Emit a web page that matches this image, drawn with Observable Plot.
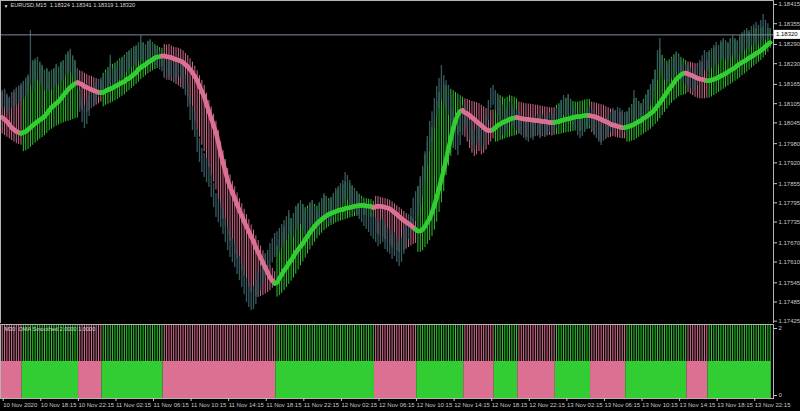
<!DOCTYPE html>
<html><head><meta charset="utf-8">
<script src="https://cdn.jsdelivr.net/npm/d3@7"></script>
<script src="https://cdn.jsdelivr.net/npm/@observablehq/plot@0.6"></script>
<style>
html,body{margin:0;padding:0;background:#000;}
#chart{width:800px;height:411px;overflow:hidden;background:#000;}
#chart svg{display:block;}
</style></head><body><div id="chart"></div>
<script>
// prices in points above 1.17000 (1 point = 0.00001)
const high=[1146,1150,1135,1125,1140,1148,1155,1160,1168,
1175,1185,1195,1334,1240,1245,1250,1235,1225,1210,1215,1205,1210,1215,1228,1220,1235,1240,1258,1268,1275,1255,1240,1215,
1146,1121,1099,1115,1130,1150,1160,1170,1180,1185,
1193,1200,1208,1256,1215,1220,1232,1240,1245,1252,1265,1270,1276,1282,1285,1295,1318,1295,1285,1300,1305,1295,1285,1275,1270,1262,
1245,1240,1255,1245,1232,1240,1252,1245,1225,1193,1168,1127,1096,1075,1027,996,965,949,934,918,887,855,824,808,793,771,746,721,699,683,668,646,627,605,583,558,543,527,533,552,574,596,621,637,646,668,683,699,
705,715,727,740,752,771,746,762,784,793,802,784,771,777,793,802,784,771,793,808,824,815,802,808,824,840,846,855,865,890,880,865,849,840,827,818,808,796,787,777,765,755,
746,733,740,746,724,715,709,693,702,684,671,684,709,733,755,777,809,830,
846,877,909,955,1002,1049,1080,1121,1159,1184,1224,1193,1177,1162,1131,1084,1052,1037,1068,1099,
1100,1084,1052,1037,1021,1037,1052,1021,1037,1068,1115,1153,1162,
1146,1130,1115,1099,1068,1090,1110,1100,1090,1084,
1077,1068,1059,1052,1046,1059,1052,1065,1071,1059,1068,1062,1071,1077,1068,1074,
1090,1100,1115,1130,1121,1134,1115,1100,1084,1068,1059,1065,1077,1090,1096,
1084,1068,1059,1046,1037,1052,1059,1065,1077,1090,1084,1093,1090,1084,1077,
1077,1090,1100,1146,1121,1110,1100,1115,1130,1146,1162,1177,1209,1271,1309,1255,1240,1225,1234,1246,1255,1265,1255,1240,1234,1225,
1225,1215,1202,1209,1225,1240,1255,1271,1265,
1271,1277,1287,1296,1287,1302,1309,1302,1296,1309,1318,1309,1302,1318,1327,1334,1340,1334,1346,1352,1359,1349,1365,1384,1365,1355,1341];
const low=[1087,1093,1075,1070,1090,1095,1100,1105,1112,
1118,1125,1135,1160,1146,1175,1180,1170,1160,1145,1150,1140,1148,1155,1165,1160,1172,1178,1192,1200,1205,1190,1175,1150,
1078,1046,1027,1040,1065,1090,1100,1110,1125,1130,
1131,1140,1148,1165,1155,1160,1172,1178,1185,1192,1205,1210,1216,1222,1225,1235,1240,1235,1225,1240,1245,1235,1225,1215,1210,1205,
1185,1178,1195,1185,1172,1178,1190,1185,1160,1131,1093,1052,1021,1000,952,921,890,874,858,843,812,780,749,733,718,696,671,646,624,608,593,571,552,530,508,483,468,458,462,477,499,521,546,562,571,593,608,624,
630,640,652,665,677,696,671,687,709,718,727,709,696,702,718,727,709,696,718,733,749,740,727,733,749,765,771,780,790,799,805,790,774,765,752,743,733,721,712,702,690,680,
671,658,665,671,649,640,634,618,627,609,596,609,634,658,680,702,715,737,
752,784,815,862,909,955,987,1027,1065,1090,1115,1099,1084,1068,1037,990,959,943,974,1005,
1037,1021,990,974,959,974,990,959,974,1005,1052,1090,1100,
1084,1068,1052,1005,1005,1027,1046,1037,1027,1021,
1015,1005,996,990,984,996,990,1002,1008,996,1005,999,1008,1015,1005,1012,
1027,1037,1052,1068,1059,1071,1052,1037,1021,1005,996,1002,1015,1027,1033,
1021,1005,996,984,974,990,996,1002,1015,1027,1021,1037,1027,1021,1015,
1015,1027,1037,1052,1059,1046,1037,1052,1068,1084,1099,1115,1146,1177,1209,1193,1178,1162,1172,1184,1193,1203,1193,1178,1172,1162,
1162,1152,1140,1146,1162,1178,1193,1209,1203,
1209,1215,1224,1234,1224,1240,1246,1240,1234,1246,1256,1246,1240,1256,1265,1271,1277,1271,1284,1290,1296,1287,1302,1309,1302,1300,1319];
const oma=[1062,1056,1049,1040,1030,1024,1018,1015,1012,
1015,1018,1024,1030,1037,1043,1049,1054,1059,1065,1074,1084,1093,1099,1106,1112,1121,1131,1140,1149,1156,1162,1168,1171,
1168,1165,1159,1156,1152,1149,1146,1143,1140,1140,
1140,1145,1148,1151,1154,1159,1162,1167,1171,1174,1181,1184,1190,1196,1202,1212,1218,1223,1227,1234,1238,1243,1248,1251,1252,1254,
1254,1252,1251,1249,1246,1243,1241,1238,1234,1227,1221,1212,1202,1190,1177,1159,1143,1127,1102,1081,1059,1037,1015,984,949,921,893,865,846,827,809,790,771,755,737,721,705,690,674,655,640,624,608,593,577,562,552,543,
546,559,571,584,593,606,615,627,640,649,659,668,680,690,702,712,721,730,737,743,749,754,759,762,765,768,771,773,774,777,779,780,782,784,785,787,787,787,785,784,784,780,
783,784,784,783,781,779,776,771,765,759,752,746,740,735,730,724,718,712,
707,707,712,721,734,746,765,787,812,840,868,899,930,965,996,1027,1052,1071,1081,1084,
1077,1074,1068,1062,1056,1049,1043,1037,1030,1024,1021,1021,1024,
1030,1037,1041,1046,1049,1052,1056,1059,1060,1062,
1060,1059,1057,1056,1056,1054,1054,1052,1052,1051,1049,1049,1048,1046,1046,1046,
1048,1049,1052,1054,1056,1057,1059,1062,1063,1065,1065,1066,1068,1068,1068,
1066,1065,1062,1059,1056,1052,1049,1046,1041,1038,1037,1034,1032,1030,1030,
1032,1034,1037,1040,1045,1049,1052,1059,1063,1068,1074,1080,1088,1098,1107,1118,1129,1140,1151,1160,1171,1181,1188,1195,1199,1201,
1198,1195,1192,1188,1185,1182,1181,1179,1177,
1177,1179,1181,1184,1187,1192,1195,1199,1204,1209,1213,1218,1224,1229,1234,1238,1243,1248,1252,1257,1262,1266,1271,1277,1284,1290,1296];
const stickHi=[1140,1145,1130,1120,1135,1140,1150,1155,1160,
1170,1180,1190,1210,1235,1240,1245,1232,1222,1208,1212,1203,1208,1212,1225,1218,1232,1238,1255,1262,1270,1252,1238,1212,
1208,1205,1200,1196,1192,1190,1186,1183,1180,1178,
1200,1210,1218,1230,1228,1232,1238,1245,1250,1256,1265,1270,1276,1282,1285,1294,1298,1295,1288,1298,1303,1296,1290,1285,1280,1278,
1290,1288,1290,1285,1282,1280,1278,1275,1270,1262,1255,1245,1235,1222,1208,1192,1178,1162,1138,1115,1095,1072,1050,1020,985,958,930,902,882,862,845,826,808,792,775,758,742,726,710,692,677,660,645,630,614,598,590,580,
660,680,700,720,740,760,745,760,780,790,800,790,780,785,795,802,790,785,795,805,818,815,808,812,822,832,838,845,852,860,862,855,845,838,830,822,815,810,808,806,805,800,
815,815,812,810,808,806,803,798,792,786,780,774,768,762,757,752,746,740,
845,870,900,945,985,1000,1030,1070,1110,1140,1160,1165,1160,1155,1150,1146,1140,1135,1130,1125,
1120,1118,1115,1112,1110,1108,1105,1100,1095,1090,1088,1085,1085,
1140,1135,1130,1125,1120,1125,1130,1128,1125,1120,
1110,1108,1106,1105,1104,1103,1102,1100,1100,1098,1096,1095,1094,1092,1092,1092,
1100,1105,1115,1130,1122,1132,1118,1112,1110,1110,1112,1114,1116,1118,1118,
1110,1108,1106,1104,1102,1100,1096,1092,1088,1085,1082,1080,1078,1076,1075,
1080,1092,1102,1120,1122,1112,1105,1118,1132,1148,1164,1180,1210,1250,1275,1256,1245,1238,1242,1250,1258,1266,1260,1250,1245,1240,
1235,1235,1232,1230,1230,1232,1235,1240,1240,
1265,1270,1278,1285,1280,1295,1302,1298,1292,1305,1312,1305,1300,1312,1320,1326,1332,1328,1335,1338,1340,1336,1342,1345,1342,1340,1338];
const stickLo=[1010,1005,1000,995,990,985,980,978,975,
955,958,962,968,975,982,988,994,999,1005,1012,1020,1025,1030,1035,1038,1042,1045,1048,1050,1052,1055,1058,1060,
1095,1085,1075,1078,1082,1090,1095,1100,1105,1110,
1095,1100,1103,1106,1110,1114,1118,1123,1128,1133,1140,1146,1152,1158,1165,1172,1180,1186,1192,1198,1203,1208,1212,1215,1218,1220,
1185,1180,1178,1175,1170,1165,1160,1155,1150,1140,1125,1100,1075,1050,1025,1000,975,955,930,905,880,860,835,805,775,745,720,695,675,655,638,620,600,582,565,548,530,515,505,500,500,502,505,510,515,520,528,535,
500,505,512,520,530,540,550,560,572,585,598,610,622,635,648,660,672,682,692,700,708,714,720,724,728,732,735,738,740,742,745,748,750,752,754,755,756,756,755,753,750,748,
700,695,690,688,680,672,665,655,650,645,640,640,645,650,655,660,665,668,
640,640,645,655,665,677,690,710,735,765,795,830,880,910,940,965,990,1005,1015,1020,
1000,985,965,950,940,945,955,945,950,960,975,985,995,
985,985,990,992,995,998,1000,1002,1004,1006,
1010,1008,1005,1000,998,1000,1000,1002,1004,1000,1002,1000,1004,1006,1004,1006,
1008,1008,1010,1012,1014,1015,1016,1018,1020,1020,1018,1020,1022,1024,1026,
1015,1008,1000,990,982,988,994,998,1000,1002,1000,998,996,995,995,
985,985,988,990,995,1000,1005,1010,1015,1020,1025,1032,1040,1048,1058,1068,1078,1088,1098,1106,1114,1120,1126,1130,1132,1134,
1140,1135,1130,1125,1122,1120,1120,1120,1122,
1122,1126,1130,1135,1140,1145,1150,1155,1160,1165,1170,1175,1180,1185,1192,1198,1204,1210,1216,1222,1228,1234,1240,1248,1256,1266,1278];
// trend state runs (first bar of each run)
const trendStarts=[0,9,33,43,69,117,159,177,197,210,220,236,251,266,292,301];
const trendDirs=["dn","up","dn","up","dn","up","dn","up","dn","up","dn","up","dn","up","dn","up"];
const priceTicks=[1.18415,1.18355,1.18290,1.18230,1.18165,1.18105,1.18045,1.17980,1.17920,1.17855,1.17795,1.17735,1.17670,1.17610,1.17545,1.17485,1.17425];
const currentPrice=1.18320;
const headerText="EURUSD,M15  1.18324 1.18341 1.18319 1.18320";
const indicatorText="M30  OMA Smoothed 2.0000 1.0000";
const timeTickBars=[0,16,32,48,64,80,96,112,128,144,160,176,192,208,224,240,256,272,288,304,320];
const timeLabels=["10 Nov 2020","10 Nov 18:15","10 Nov 22:15","11 Nov 02:15","11 Nov 06:15","11 Nov 10:15","11 Nov 14:15","11 Nov 18:15","11 Nov 22:15","12 Nov 02:15","12 Nov 06:15","12 Nov 10:15","12 Nov 14:15","12 Nov 18:15","12 Nov 22:15","13 Nov 02:15","13 Nov 06:15","13 Nov 10:15","13 Nov 14:15","13 Nov 18:15","13 Nov 22:15"];

const GREEN="#32cd32", PINK="#db7093", BARGRAY="#365a60", AXIS="#c8c8c8", BORDER="#b4b4b4";
const FONT="Liberation Sans, Arial, sans-serif";
const N=oma.length;
const P=v=>1.17+v/1e5;
const trend=[];
const runs=[];
for(let k=0;k<trendStarts.length;k++){
  const end=k+1<trendStarts.length?trendStarts[k+1]:N;
  for(let i=trendStarts[k];i<end;i++)trend[i]=trendDirs[k];
  runs.push({a:trendStarts[k]-0.5,b:end-0.5,col:trendDirs[k]==="up"?GREEN:PINK});
}
const bars=d3.range(N).map(i=>({i,hi:P(high[i]),lo:P(low[i]),oma:P(oma[i]),sh:P(stickHi[i]),sl:P(stickLo[i]),col:trend[i]==="up"?GREEN:PINK}));
const segs=d3.range(1,N).map(i=>({x1:i-1,x2:i,y1:bars[i-1].oma,y2:bars[i].oma,col:bars[i].col}));
const XDOM=[-0.733,328.4];

const main=Plot.plot({
  width:800,height:323,marginTop:0,marginBottom:0,marginLeft:0,marginRight:27,
  style:{background:"#000",color:AXIS,fontFamily:FONT,fontSize:"6px"},
  x:{type:"linear",domain:XDOM,axis:null},
  y:{domain:[1.174178,1.184275],axis:null,label:null},
  color:{type:"identity"},
  marks:[
    Plot.ruleX(bars,{x:"i",y1:"sl",y2:"sh",stroke:"col",strokeWidth:1,strokeOpacity:0.95,clip:true}),
    Plot.ruleX(bars,{x:"i",y1:"lo",y2:"hi",stroke:BARGRAY,strokeWidth:1.3,clip:true}),
    Plot.ruleY([currentPrice],{stroke:"#7d8a9a",strokeWidth:1}),
    Plot.link(segs,{x1:"x1",y1:"y1",x2:"x2",y2:"y2",stroke:"col",strokeWidth:4.5,strokeLinecap:"round",clip:true}),
    Plot.axisY(priceTicks,{anchor:"right",tickSize:3,tickPadding:2,tickFormat:d=>d.toFixed(5),color:AXIS,fontSize:6,label:null}),
    Plot.frame({stroke:BORDER}),
    Plot.text([headerText],{frameAnchor:"top-left",dx:10,dy:3,fill:"#d8d8d8",fontSize:5.6,textAnchor:"start",lineAnchor:"top"}),
    Plot.text(["\u25BC"],{frameAnchor:"top-left",dx:3,dy:4,fill:"#d8d8d8",fontSize:5,textAnchor:"start",lineAnchor:"top"})
  ]
});
{
  const yy=main.scale("y").apply(currentPrice);
  const s=d3.select(main);
  s.append("rect").attr("x",774).attr("y",yy-4.5).attr("width",26).attr("height",9).attr("fill","#ffffff");
  s.append("text").attr("x",776).attr("y",yy).attr("dy","0.35em").attr("text-anchor","start").attr("font-size",6).attr("font-family",FONT).attr("fill","#000").text(currentPrice.toFixed(5));
}

const lower=Plot.plot({
  width:800,height:88,marginTop:1,marginBottom:13,marginLeft:0,marginRight:27,
  style:{background:"#000",color:AXIS,fontFamily:FONT,fontSize:"6px"},
  x:{type:"linear",domain:XDOM,axis:null},
  y:{domain:[0,2],axis:null,label:null},
  color:{type:"identity"},
  marks:[
    Plot.ruleX(bars,{x:"i",y1:1,y2:2,stroke:"col",strokeWidth:1}),
    Plot.rect(runs,{x1:"a",x2:"b",y1:0,y2:1,fill:"col",clip:true}),
    Plot.frame({stroke:BORDER}),
    Plot.axisY([2],{anchor:"right",tickSize:3,tickPadding:2,dy:4,color:AXIS,fontSize:6,label:null}),
    Plot.axisY([0],{anchor:"right",tickSize:3,tickPadding:2,dy:-3,color:AXIS,fontSize:6,label:null}),
    Plot.axisX(timeTickBars,{anchor:"bottom",tickSize:3,tickPadding:1,textAnchor:"start",dx:1,color:AXIS,fontSize:6,label:null,tickFormat:d=>timeLabels[timeTickBars.indexOf(d)]}),
    Plot.text([indicatorText],{frameAnchor:"top-left",dx:4,dy:3,fill:"#d8d8d8",fontSize:5.6,textAnchor:"start",lineAnchor:"top"})
  ]
});
const c=document.getElementById("chart");
c.appendChild(main);c.appendChild(lower);
if([high,low,stickHi,stickLo].some(a=>a.length!==N)){const d=document.createElement("div");d.style.cssText="position:absolute;top:100px;left:100px;color:red;font-size:20px";d.textContent="len "+[high.length,low.length,oma.length,stickHi.length,stickLo.length].join(",");document.body.appendChild(d);}
</script></body></html>
